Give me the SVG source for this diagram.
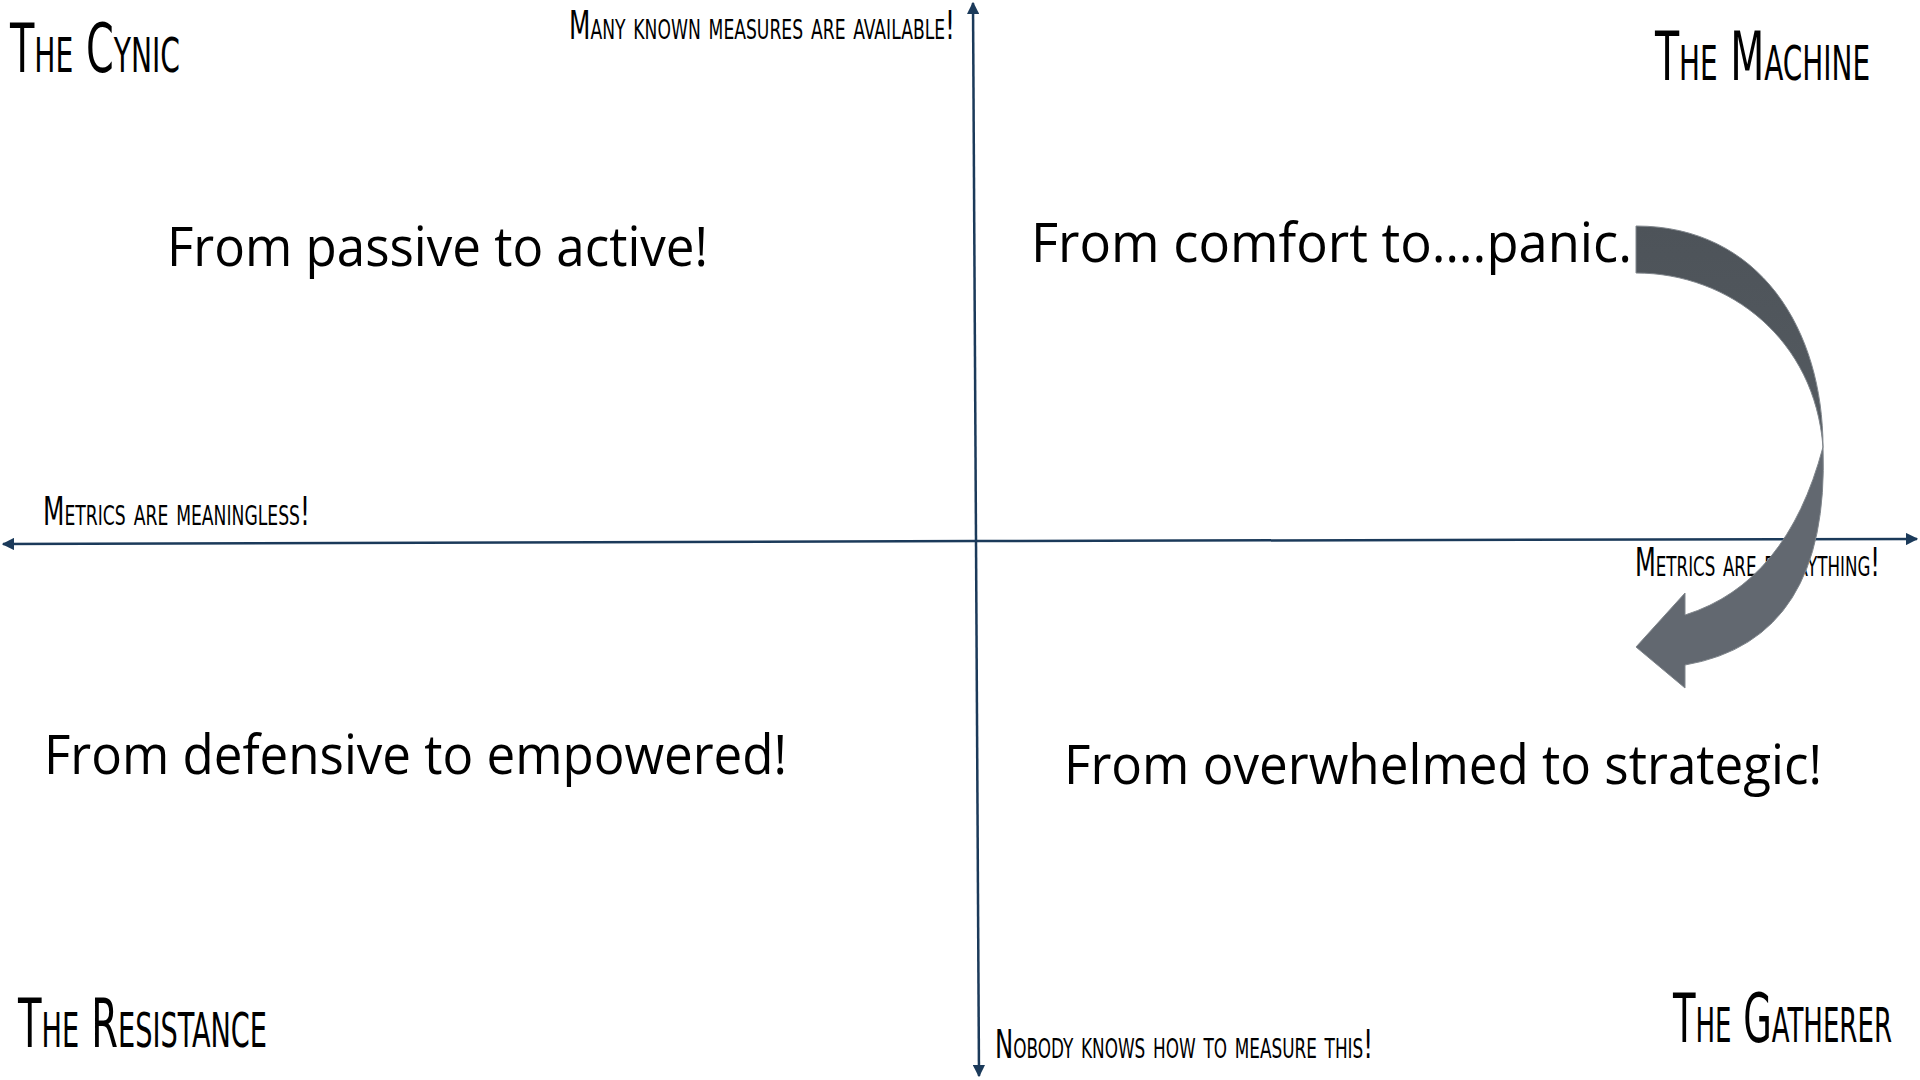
<svg xmlns="http://www.w3.org/2000/svg" width="1920" height="1080" viewBox="0 0 1920 1080">
  <defs>
    <style>
      .hand { font-family: "DejaVu Sans Condensed", "Liberation Sans Narrow", "Liberation Sans", sans-serif; font-variant: small-caps; fill: #000; }
      .title { font-size: 68px; }
      .axis-label { font-size: 39px; }
      .end { text-anchor: end; }
      .main { font-family: "Open Sans", "Noto Sans", "Liberation Sans", sans-serif; font-size: 54px; fill: #000; }
      .axis { stroke: #1b3a5a; stroke-width: 2.5; fill: none; }
    </style>
    <marker id="ah" viewBox="0 0 10 10" refX="9" refY="5" markerWidth="5" markerHeight="5" orient="auto" markerUnits="strokeWidth">
      <path d="M0,0 L10,5 L0,10 Z" fill="#1b3a5a"/>
    </marker>
    <linearGradient id="arrowGrad" x1="0" y1="0" x2="0" y2="1">
      <stop offset="0" stop-color="#4d5359"/>
      <stop offset="1" stop-color="#555b61"/>
    </linearGradient>
  </defs>
  <rect width="1920" height="1080" fill="#ffffff"/>

  <g id="connectors">
    <line class="axis" x1="977" y1="541" x2="1917" y2="539" marker-end="url(#ah)"/>
    <line class="axis" x1="977" y1="541" x2="3" y2="544" marker-end="url(#ah)"/>
    <line class="axis" x1="976" y1="541" x2="973" y2="3" marker-end="url(#ah)"/>
    <line class="axis" x1="976" y1="541" x2="979" y2="1076" marker-end="url(#ah)"/>
  </g>

  <g id="label-top">
    <text class="hand axis-label" x="569" y="39" textLength="386" lengthAdjust="spacingAndGlyphs">Many known measures are available!</text>
  </g>
  <g id="label-left">
    <text class="hand axis-label" x="43" y="525" textLength="267" lengthAdjust="spacingAndGlyphs">Metrics are meaningless!</text>
  </g>
  <g id="label-right">
    <text class="hand axis-label end" x="1880" y="576" textLength="245" lengthAdjust="spacingAndGlyphs">Metrics are everything!</text>
  </g>
  <g id="label-bottom">
    <text class="hand axis-label" x="995" y="1058" textLength="378" lengthAdjust="spacingAndGlyphs">Nobody knows how to measure this!</text>
  </g>

  <g id="cynic">
    <text class="hand title" x="10" y="72" textLength="170" lengthAdjust="spacingAndGlyphs">The Cynic</text>
    <text class="main" x="167" y="266" textLength="541" lengthAdjust="spacingAndGlyphs">From passive to active!</text>
  </g>
  <g id="machine">
    <text class="hand title end" x="1870" y="80" textLength="215" lengthAdjust="spacingAndGlyphs">The Machine</text>
    <text class="main" x="1031" y="262" textLength="601" lengthAdjust="spacingAndGlyphs">From comfort to….panic.</text>
  </g>
  <g id="resistance">
    <text class="hand title" x="18" y="1047" textLength="249" lengthAdjust="spacingAndGlyphs">The Resistance</text>
    <text class="main" x="44" y="774" textLength="743" lengthAdjust="spacingAndGlyphs">From defensive to empowered!</text>
  </g>
  <g id="gatherer">
    <text class="hand title end" x="1892" y="1042" textLength="219" lengthAdjust="spacingAndGlyphs">The Gatherer</text>
    <text class="main" x="1064" y="784" textLength="758" lengthAdjust="spacingAndGlyphs">From overwhelmed to strategic!</text>
  </g>

  <g id="curved-arrow" stroke="#80868c" stroke-width="1">
    <path d="M1636,226 C1760,226 1823,330 1823,447 C1815,340 1730,273 1636,273 Z" fill="url(#arrowGrad)"/>
    <path d="M1823,447 Q1830,640 1685,665 L1685,688 L1636,647 L1685,593 L1685,615 Q1787,583 1823,447 Z" fill="#626870"/>
  </g>
</svg>
